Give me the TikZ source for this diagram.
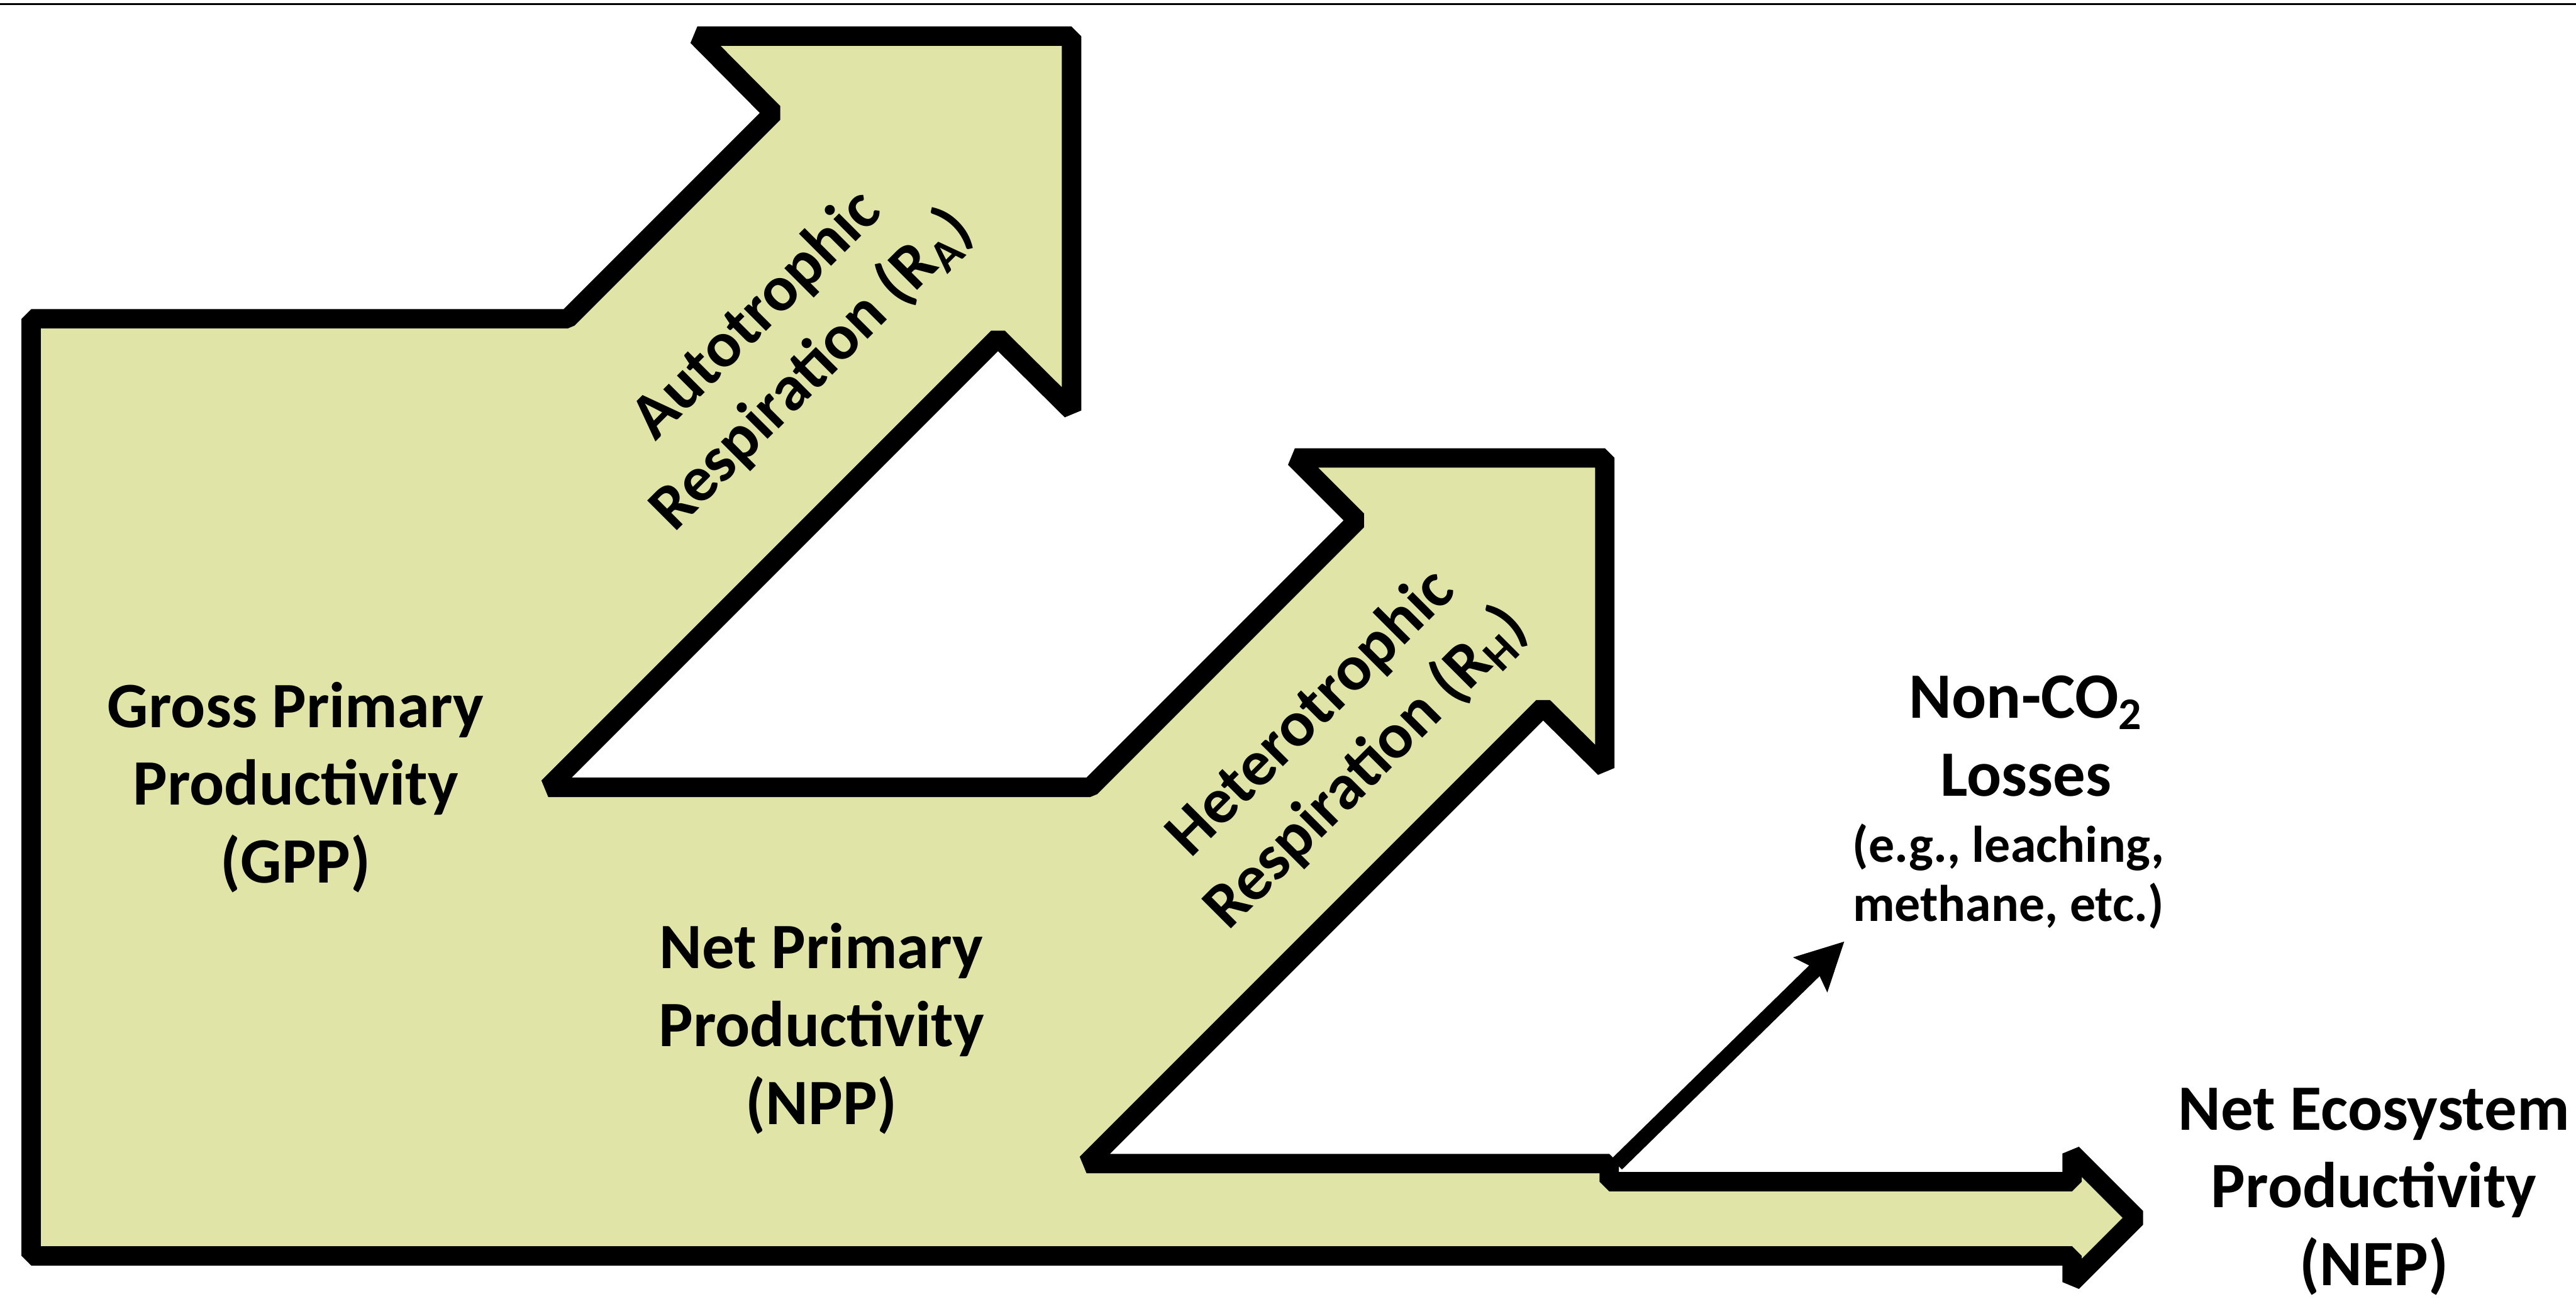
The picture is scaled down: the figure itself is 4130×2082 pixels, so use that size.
\documentclass[tikz,border=0pt]{standalone}
\usepackage{fontspec}
\setmainfont{Carlito}
\usetikzlibrary{arrows.meta}
\definecolor{flowfill}{RGB}{224,228,167}
\begin{document}
\begin{tikzpicture}[x=0.01cm,y=-0.01cm,
  flowline/.style={line width=0.31cm, line join=bevel, draw=black, fill=flowfill},
  lbl/.style={font=\fontsize{29.5}{35.5}\selectfont\bfseries, align=center, inner sep=0pt},
  smalllbl/.style={font=\fontsize{23.5}{27}\selectfont\bfseries, align=center, inner sep=0pt},
  lossarrow/.style={line width=0.24cm, -{Stealth[length=0.75cm,width=0.75cm,inset=0.12cm]}}
]
\useasboundingbox (0,0) rectangle (4130,2082);
\draw[line width=0.03cm] (0,7) -- (4130,7);
% flow shape
\draw[flowline] (50,2013) -- (50,511) -- (910,511) -- (1240,181) -- (1118,58) -- (1718,58)
  -- (1718,658) -- (1600,541) -- (879,1262) -- (1748,1262) -- (2176,834) -- (2076,734)
  -- (2573,734) -- (2573,1231) -- (2474,1133) -- (1742,1865) -- (2580,1865) -- (2580,1894)
  -- (3322,1894) -- (3322,1849) -- (3425,1952) -- (3322,2055) -- (3322,2013) -- cycle;
% labels
\node[lbl] (gpp) at (474,1262) {Gross Primary\\Productivity\\(GPP)};
\node[lbl] (npp) at (1317,1649) {Net Primary\\Productivity\\(NPP)};
\node[lbl, rotate=45] (ra) at (1258,550) {Autotrophic\\Respiration (R\textsubscript{A})};
\node[lbl, rotate=45] (rh) at (2147,1188) {Heterotrophic\\Respiration (R\textsubscript{H})};
\node[lbl] (nep) at (3806,1910) {Net Ecosystem\\Productivity\\(NEP)};
\node[lbl] (non) at (3248,1180) {Non-CO\textsubscript{2}\\Losses};
\node[smalllbl] (nonex) at (3220,1405) {(e.g., leaching,\\methane, etc.)};
% non-CO2 loss arrow
\coordinate (lossStart) at (2592,1866);
\coordinate (lossEnd) at (2957,1509);
\draw[lossarrow] (lossStart) -- (lossEnd);
\end{tikzpicture}
\end{document}
